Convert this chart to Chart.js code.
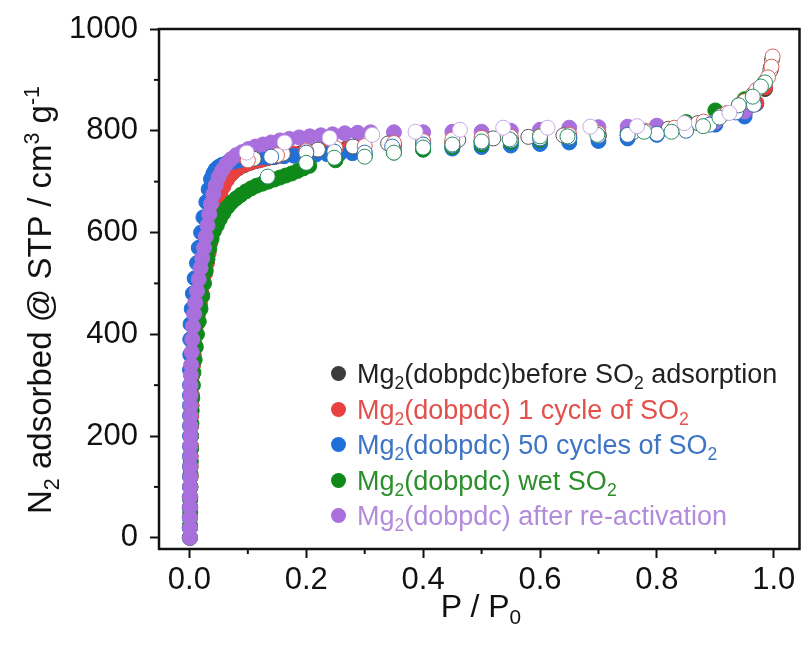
<!DOCTYPE html>
<html>
<head>
<meta charset="utf-8">
<script src="https://cdn.jsdelivr.net/npm/chart.js@4.4.1/dist/chart.umd.min.js"></script>
<style>
    html, body { margin: 0; padding: 0; background: #fff; }
    #wrap { position: relative; width: 808px; height: 658px; font-family: "Liberation Sans", Arial, sans-serif; }
    #isotherm { position: absolute; left: 0; top: 0; }
    .title { position: absolute; color: #111; white-space: nowrap; }
    #yTitle { left: 40px; top: 300px; font-size: 33px; transform: translate(-50%, -50%) rotate(-90deg); }
    #xTitle { left: 481px; top: 606px; font-size: 32px; transform: translate(-50%, -50%); }
    sub, sup { font-size: 65%; line-height: 0; }
    #legend { position: absolute; left: 331px; top: 357px; font-size: 27px; }
    .row { height: 35.5px; line-height: 35.5px; white-space: nowrap; }
    .dot { display: inline-block; width: 15px; height: 15px; border-radius: 50%; margin-right: 11px; vertical-align: middle; position: relative; top: -2px; }
</style>
</head>
<body>
<div id="wrap">
    <canvas id="isotherm" width="808" height="658"></canvas>
    <div class="title" id="yTitle">N<sub>2</sub> adsorbed @ STP / cm<sup>3</sup> g<sup>-1</sup></div>
    <div class="title" id="xTitle">P / P<sub>0</sub></div>
    <div id="legend"></div>
</div>
<script>
// axis ticks
const xTickValues = [0, 0.1, 0.2, 0.3, 0.4, 0.5, 0.6, 0.7, 0.8, 0.9, 1.0];
const xTickLabels = ["0.0", "", "0.2", "", "0.4", "", "0.6", "", "0.8", "", "1.0"];
const yTickValues = [0, 100, 200, 300, 400, 500, 600, 700, 800, 900, 1000];
const yTickLabels = ["0", "", "200", "", "400", "", "600", "", "800", "", "1000"];

// series names (legend)
const seriesNames = [
    "Mg<sub>2</sub>(dobpdc)before SO<sub>2</sub> adsorption",
    "Mg<sub>2</sub>(dobpdc) 1 cycle of SO<sub>2</sub>",
    "Mg<sub>2</sub>(dobpdc) 50 cycles of SO<sub>2</sub>",
    "Mg<sub>2</sub>(dobpdc) wet SO<sub>2</sub>",
    "Mg<sub>2</sub>(dobpdc) after re-activation"
];

// adsorption branches [P/P0, N2 uptake]
const blackAds = [[0.001,0],[0.001,20],[0.001,40],[0.0015,60],[0.0015,80],[0.0015,100],[0.002,120],[0.002,140],[0.002,160],[0.0025,180],[0.0025,200],[0.003,220],[0.003,240],[0.0035,260],[0.004,280],[0.0045,300],[0.005,320],[0.006,340],[0.007,360],[0.008,380],[0.010,400],[0.012,420],[0.014,440],[0.017,460],[0.020,480],[0.023,500],[0.026,520],[0.029,540],[0.032,560],[0.035,580],[0.038,600],[0.041,620],[0.044,640],[0.048,660],[0.053,680],[0.059,696],[0.066,708],[0.074,718],[0.083,726],[0.093,732],[0.104,737],[0.116,741],[0.129,745],[0.143,748],[0.158,751],[0.174,754],[0.191,756],[0.209,758],[0.228,761],[0.248,763],[0.269,765],[0.29,767],[0.35,771],[0.40,774],[0.45,777],[0.50,779],[0.55,781],[0.60,783],[0.65,785],[0.70,788],[0.75,791],[0.80,796],[0.85,804],[0.90,815],[0.95,835],[0.97,853],[0.985,882],[0.995,922]];
const redAds = [[0.001,0],[0.001,20],[0.001,40],[0.0015,60],[0.0015,80],[0.0015,100],[0.002,120],[0.002,140],[0.002,160],[0.0025,180],[0.0025,200],[0.003,220],[0.003,240],[0.0035,260],[0.004,280],[0.0045,300],[0.005,320],[0.006,340],[0.007,360],[0.009,380],[0.011,400],[0.013,420],[0.015,440],[0.018,460],[0.021,480],[0.024,500],[0.027,520],[0.030,540],[0.033,560],[0.036,580],[0.039,600],[0.042,620],[0.045,640],[0.049,658],[0.053,674],[0.058,690],[0.064,703],[0.071,714],[0.079,723],[0.088,730],[0.098,735],[0.109,739],[0.121,742],[0.134,746],[0.148,749],[0.163,752],[0.179,755],[0.196,757],[0.214,759],[0.233,762],[0.253,764],[0.273,766],[0.294,768],[0.35,772],[0.40,775],[0.45,777],[0.50,780],[0.55,782],[0.60,784],[0.65,786],[0.70,789],[0.75,792],[0.80,797],[0.85,805],[0.90,816],[0.95,836],[0.97,855],[0.985,885],[0.995,925]];
const blueAds = [[0.0005,0],[0.0005,20],[0.0005,40],[0.0005,60],[0.0005,80],[0.001,100],[0.001,120],[0.001,140],[0.001,160],[0.001,180],[0.001,200],[0.001,220],[0.001,240],[0.001,260],[0.001,280],[0.001,300],[0.001,330],[0.0015,360],[0.0015,390],[0.002,420],[0.004,450],[0.006,480],[0.009,510],[0.013,540],[0.016,570],[0.020,600],[0.024,630],[0.029,660],[0.033,685],[0.037,705],[0.041,716],[0.045,724],[0.050,729],[0.056,733],[0.063,736],[0.071,738],[0.081,741],[0.092,743],[0.104,745],[0.117,747],[0.131,748],[0.146,749],[0.162,750],[0.179,751],[0.197,752],[0.216,753],[0.236,754],[0.257,755],[0.279,756],[0.30,757],[0.35,760],[0.40,763],[0.45,765],[0.50,768],[0.55,771],[0.60,774],[0.65,777],[0.70,780],[0.75,785],[0.80,792],[0.85,801],[0.90,812],[0.95,828]];
const greenAds = [[0.001,0],[0.001,25],[0.0015,50],[0.0015,75],[0.002,100],[0.002,125],[0.0025,150],[0.003,175],[0.003,200],[0.0035,225],[0.004,250],[0.005,275],[0.006,300],[0.007,325],[0.009,350],[0.011,375],[0.013,400],[0.016,425],[0.019,450],[0.022,475],[0.025,500],[0.028,525],[0.031,548],[0.034,568],[0.038,588],[0.042,603],[0.047,614],[0.052,626],[0.058,638],[0.065,650],[0.072,659],[0.080,667],[0.088,674],[0.097,681],[0.106,687],[0.115,692],[0.125,696],[0.135,700],[0.145,704],[0.155,708],[0.165,712],[0.175,716],[0.185,721],[0.195,726],[0.205,731],[0.25,742],[0.30,750],[0.35,757],[0.40,763],[0.45,768],[0.50,773],[0.55,778],[0.60,782],[0.65,787],[0.70,791],[0.75,797],[0.80,805],[0.85,817],[0.90,840],[0.95,862]];
const purpleAds = [[0.001,0],[0.001,20],[0.001,40],[0.001,60],[0.001,80],[0.0015,100],[0.0015,120],[0.0015,140],[0.0015,160],[0.0015,180],[0.002,200],[0.002,220],[0.002,240],[0.002,260],[0.002,280],[0.002,300],[0.0025,320],[0.003,340],[0.004,365],[0.005,390],[0.006,415],[0.008,440],[0.010,462],[0.013,485],[0.016,508],[0.019,530],[0.022,550],[0.025,570],[0.028,592],[0.031,614],[0.034,636],[0.037,656],[0.041,675],[0.045,693],[0.050,709],[0.056,722],[0.063,734],[0.071,744],[0.080,752],[0.090,758],[0.101,764],[0.113,769],[0.126,773],[0.140,777],[0.155,781],[0.171,784],[0.188,787],[0.206,789],[0.225,791],[0.245,793],[0.266,795],[0.288,796],[0.31,797],[0.35,797],[0.40,797],[0.45,798],[0.50,798],[0.55,800],[0.60,802],[0.65,806],[0.70,807],[0.75,808],[0.80,810],[0.85,813],[0.90,818],[0.95,838]];

// desorption branches
const blackDes = [[0.997,940],[0.994,918],[0.985,896],[0.965,872],[0.94,850],[0.91,830],[0.87,815],[0.82,804],[0.76,798],[0.70,794],[0.64,791],[0.58,788],[0.52,785],[0.46,782],[0.40,779],[0.34,775],[0.28,769],[0.22,763],[0.16,755],[0.11,745]];
const redDes = [[0.998,946],[0.996,926],[0.99,905],[0.97,880],[0.95,858],[0.92,835],[0.88,818],[0.83,806],[0.78,800],[0.70,795],[0.65,792],[0.60,790],[0.55,788],[0.50,786],[0.45,783],[0.40,780],[0.35,776],[0.30,770],[0.25,766],[0.20,760],[0.15,752],[0.10,742]];
const blueDes = [[0.966,851],[0.935,836],[0.89,812],[0.85,800],[0.80,794],[0.75,792],[0.70,790],[0.65,787],[0.60,785],[0.55,781],[0.50,777],[0.45,771],[0.40,773],[0.347,769],[0.30,757],[0.248,759],[0.20,757],[0.14,749]];
const greenDes = [[0.985,895],[0.978,887],[0.964,867],[0.94,850],[0.907,826],[0.879,809],[0.825,798],[0.778,798],[0.698,792],[0.647,789],[0.60,789],[0.548,783],[0.50,779],[0.45,773],[0.40,767],[0.35,757],[0.30,749],[0.248,747],[0.20,737],[0.134,710]];
const purpleDes = [[0.924,835],[0.847,815],[0.766,809],[0.686,808],[0.613,806],[0.537,806],[0.463,802],[0.387,798],[0.313,792],[0.24,786],[0.163,777],[0.098,757]];

const fillColors = ["#3c3c3c", "#e8413f", "#2170d8", "#0f8a1a", "#a86fdd"];
const edgeColors = ["#555555", "#d8605a", "#2f6cb0", "#2d8a66", "#c7a8e6"];
const textColors = ["#222222", "#e2504c", "#3d74c4", "#2b8f2b", "#b28bdb"];

const adsSets = [blackAds, redAds, blueAds, greenAds, purpleAds];
const desSets = [blackDes, redDes, blueDes, greenDes, purpleDes];

const toPoints = arr => arr.map(p => ({ x: p[0], y: p[1] }));

const datasets = [];
// higher order is drawn first
adsSets.forEach((set, i) => {
    datasets.push({
        data: toPoints(set),
        backgroundColor: fillColors[i],
        borderColor: fillColors[i],
        borderWidth: 1,
        pointRadius: 7.5,
        order: 100 - i
    });
});
desSets.forEach((set, i) => {
    datasets.push({
        data: toPoints(set),
        backgroundColor: "#ffffff",
        borderColor: edgeColors[i],
        borderWidth: 1,
        pointRadius: 7.5,
        order: 50 - i
    });
});

// legend
const legendBox = document.getElementById("legend");
legendBox.innerHTML = seriesNames.map((name, i) =>
    `<div class="row" style="color:${textColors[i]}"><span class="dot" style="background:${fillColors[i]}"></span>${name}</div>`
).join("");

// frame + minor ticks
const framePlugin = {
    id: "frame",
    afterDraw(chart) {
        const ctx = chart.ctx;
        const a = chart.chartArea;
        ctx.save();
        ctx.strokeStyle = "#111";
        ctx.lineWidth = 2.5;
        ctx.strokeRect(a.left, a.top, a.right - a.left, a.bottom - a.top);

        ctx.lineWidth = 2;
        const xs = chart.scales.x;
        const ys = chart.scales.y;
        xTickValues.forEach((v, i) => {
            if (xTickLabels[i] !== "") return;
            const px = xs.getPixelForValue(v);
            ctx.beginPath();
            ctx.moveTo(px, a.bottom);
            ctx.lineTo(px, a.bottom + 5);
            ctx.stroke();
        });
        yTickValues.forEach((v, i) => {
            if (yTickLabels[i] !== "") return;
            const py = ys.getPixelForValue(v);
            ctx.beginPath();
            ctx.moveTo(a.left, py);
            ctx.lineTo(a.left - 5, py);
            ctx.stroke();
        });
        ctx.restore();
    }
};

const tickFont = { family: "'Liberation Sans', Arial, sans-serif", size: 31 };

new Chart(document.getElementById("isotherm"), {
    type: "scatter",
    data: { datasets: datasets },
    options: {
        responsive: false,
        animation: false,
        layout: { padding: { top: 29, right: 0, left: 0, bottom: 0 } },
        plugins: { legend: { display: false }, tooltip: { enabled: false } },
        scales: {
            x: {
                type: "linear",
                min: -0.052,
                max: 1.044,
                afterBuildTicks: scale => { scale.ticks = xTickValues.map(v => ({ value: v })); },
                afterFit: scale => {
                    scale.height = 109;
                    scale.paddingLeft = 0;
                    scale.paddingRight = 0;
                },
                ticks: {
                    font: tickFont,
                    color: "#111",
                    padding: 4,
                    maxRotation: 0,
                    autoSkip: false,
                    callback: (val, i) => xTickLabels[i]
                },
                grid: {
                    drawOnChartArea: false,
                    tickLength: 9,
                    tickWidth: 2,
                    tickColor: c => xTickLabels[c.index] === "" ? "rgba(0,0,0,0)" : "#111"
                },
                border: { display: false }
            },
            y: {
                type: "linear",
                min: -22,
                max: 1000,
                afterBuildTicks: scale => { scale.ticks = yTickValues.map(v => ({ value: v })); },
                afterFit: scale => {
                    scale.width = 159;
                    scale.paddingTop = 0;
                    scale.paddingBottom = 0;
                },
                ticks: {
                    font: tickFont,
                    color: "#111",
                    padding: 12,
                    autoSkip: false,
                    callback: (val, i) => yTickLabels[i]
                },
                grid: {
                    drawOnChartArea: false,
                    tickLength: 9,
                    tickWidth: 2,
                    tickColor: c => yTickLabels[c.index] === "" ? "rgba(0,0,0,0)" : "#111"
                },
                border: { display: false }
            }
        }
    },
    plugins: [framePlugin]
});
</script>
</body>
</html>
